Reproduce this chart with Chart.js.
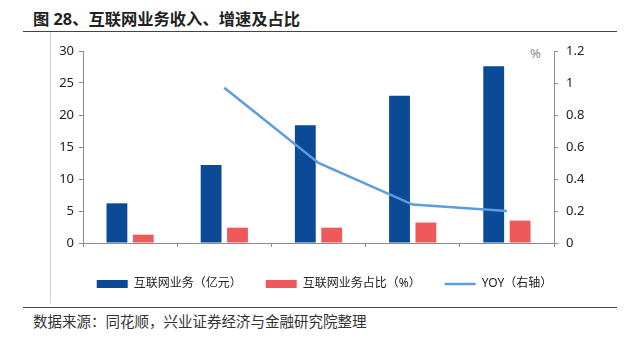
<!DOCTYPE html>
<html lang="zh">
<head>
<meta charset="utf-8">
<script src="https://cdn.jsdelivr.net/npm/chart.js@4/dist/chart.umd.min.js"></script>
<style>
    body { margin: 0; width: 624px; height: 338px; background: #fff; position: relative; overflow: hidden;
        font-family: "Noto Sans", "Noto Sans CJK SC", sans-serif; color: #222; }
    .titulo { position: absolute; left: 33px; top: 6px; font-size: 16.3px; font-weight: bold; white-space: nowrap; }
    .linea { position: absolute; left: 23px; width: 594px; height: 1px; background: #444; }
    .vertical { position: absolute; left: 50px; top: 32px; width: 1px; height: 271px; background: #d0d0d0; }
    .fuente { position: absolute; left: 33px; top: 310px; font-size: 14.5px; color: #333; white-space: nowrap; }
    .pct { position: absolute; left: 530px; top: 44px; font-size: 13px; color: #888; }
    #grafico { position: absolute; left: 25px; top: 33px; }
</style>
</head>
<body>
<div class="titulo">图 28、互联网业务收入、增速及占比</div>
<div class="linea" style="top:31px"></div>
<div class="vertical"></div>
<div class="pct">%</div>
<canvas id="grafico" width="599" height="267"></canvas>
<div class="linea" style="top:307px"></div>
<div class="fuente">数据来源：同花顺，兴业证券经济与金融研究院整理</div>

<script>
const categorias = ["2019Y", "2020Y", "2021Y", "2022Y", "2023Y"];
const ingresos = [6.2, 12.2, 18.4, 23.0, 27.6];
const participacion = [1.3, 2.4, 2.4, 3.2, 3.5];
const crecimiento = [null, 0.97, 0.50, 0.24, 0.20];

const FUENTE = "'Noto Sans', 'Noto Sans CJK SC', sans-serif";
const GRIS = "#8c8c8c";

const ejeComun = {
    border: { display: true, color: GRIS, width: 1 },
    grid: { display: true, drawOnChartArea: false, drawTicks: true, tickLength: 4, color: GRIS },
};

new Chart(document.getElementById("grafico"), {
    data: {
        labels: categorias,
        datasets: [
            { type: "bar", label: "互联网业务（亿元）", data: ingresos, backgroundColor: "#0a4a96",
              yAxisID: "y", order: 1, pointStyle: "rect", categoryPercentage: 0.56, barPercentage: 0.79 },
            { type: "bar", label: "互联网业务占比（%）", data: participacion, backgroundColor: "#ee5a5c",
              yAxisID: "y", order: 1, pointStyle: "rect", categoryPercentage: 0.56, barPercentage: 0.79 },
            { type: "line", label: "YOY（右轴）", data: crecimiento, borderColor: "#5e9ce0", backgroundColor: "#5e9ce0",
              borderWidth: 2.5, pointRadius: 0, pointStyle: "line", tension: 0, yAxisID: "y1", order: 0 },
        ],
    },
    options: {
        responsive: false,
        animation: false,
        events: [],
        layout: { padding: { top: 18, left: 0, right: 0, bottom: 0 } },
        plugins: {
            tooltip: { enabled: false },
            legend: {
                position: "bottom",
                labels: {
                    usePointStyle: true, pointStyleWidth: 31, boxHeight: 8, padding: 24,
                    color: "#222", font: { family: FUENTE, size: 12 },
                    sort: (a, b) => a.datasetIndex - b.datasetIndex,
                },
            },
        },
        scales: {
            x: {
                ...ejeComun,
                ticks: { color: "#222", padding: 6, font: { family: FUENTE, size: 13 } },
                afterFit: (eje) => { eje.height = 11; },
            },
            y: {
                ...ejeComun,
                position: "left", min: 0, max: 30,
                ticks: { stepSize: 5, color: "#222", padding: 5, font: { family: FUENTE, size: 13 } },
                afterFit: (eje) => { eje.width = 58; },
            },
            y1: {
                ...ejeComun,
                position: "right", min: 0, max: 1.2,
                ticks: { stepSize: 0.2, color: "#222", padding: 8, font: { family: FUENTE, size: 13 },
                         callback: (v) => String(+v.toFixed(1)) },
                afterFit: (eje) => { eje.width = 70; },
            },
        },
    },
});
</script>
</body>
</html>
